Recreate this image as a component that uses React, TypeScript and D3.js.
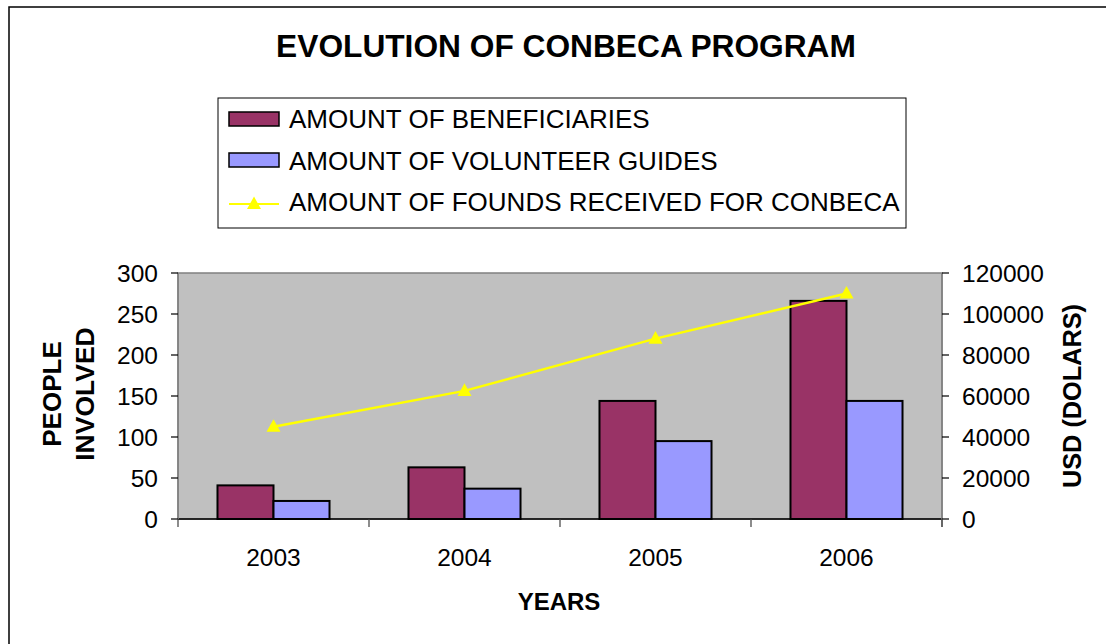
import React from "react";
import * as d3 from "d3";

const years = ["2003", "2004", "2005", "2006"];
const beneficiaries = [41, 63, 144, 266];
const volunteers = [22, 37, 95, 144];
const funds = [45000, 62500, 88000, 110000];
const leftTicks = [0, 50, 100, 150, 200, 250, 300];
const rightTicks = [0, 20000, 40000, 60000, 80000, 100000, 120000];
const seriesNames = ["AMOUNT OF BENEFICIARIES", "AMOUNT OF VOLUNTEER GUIDES", "AMOUNT OF FOUNDS RECEIVED FOR CONBECA"];

const W = 1106, H = 644;
const PL = 178, PR = 942, PT = 273, PB = 519;
const FONT = "'Liberation Sans', Arial, sans-serif";
const C_BEN = "#993366", C_VOL = "#9999FF", C_LINE = "#FFFF00";

function tri(cx: number, cy: number, s: number) {
  const h = s * 0.9;
  return `M${cx},${cy - h * 0.6}L${cx + s / 2},${cy + h * 0.4}L${cx - s / 2},${cy + h * 0.4}Z`;
}

export default function App() {
  const x0 = d3.scaleBand().domain(years).range([PL, PR]).padding(0);
  const x1 = d3.scaleBand().domain(["b", "v"]).range([0, x0.bandwidth()]).paddingInner(0).paddingOuter(0.705);
  const yL = d3.scaleLinear().domain([0, 300]).range([PB, PT]);
  const yR = d3.scaleLinear().domain([0, 120000]).range([PB, PT]);
  const cx = (y: string) => (x0(y) as number) + x0.bandwidth() / 2;
  const line = d3.line<number>().x((_, i) => cx(years[i])).y((d) => yR(d));

  return (
    <svg width={W} height={H} style={{ position: "absolute", left: 0, top: 0, background: "#fff" }} fontFamily={FONT}>
      <rect x={9} y={7} width={1200} height={800} fill="#fff" stroke="#000" strokeWidth={1.5} />
      <text x={566} y={57} textAnchor="middle" fontSize={31.7} fontWeight="bold" fill="#000">EVOLUTION OF CONBECA PROGRAM</text>

      {/* legend */}
      <rect x={218} y={98} width={688} height={130} fill="#fff" stroke="#000" strokeWidth={1} />
      <rect x={229} y={112} width={50} height={14} fill={C_BEN} stroke="#000" strokeWidth={1.5} />
      <rect x={229} y={153} width={50} height={14} fill={C_VOL} stroke="#000" strokeWidth={1.5} />
      <line x1={229} x2={279} y1={204} y2={204} stroke={C_LINE} strokeWidth={2} />
      <path d={tri(254, 204, 14)} fill={C_LINE} />
      {seriesNames.map((s, i) => (
        <text key={s} x={289} y={128 + i * 41.5} fontSize={26} fill="#000">{s}</text>
      ))}

      {/* plot area */}
      <rect x={PL} y={PT} width={PR - PL} height={PB - PT} fill="#C0C0C0" stroke="#808080" strokeWidth={1.5} />

      {years.map((y, i) => (
        <g key={y}>
          <rect x={(x0(y) as number) + (x1("b") as number)} y={yL(beneficiaries[i])} width={x1.bandwidth()} height={PB - yL(beneficiaries[i])} fill={C_BEN} stroke="#000" strokeWidth={2} />
          <rect x={(x0(y) as number) + (x1("v") as number)} y={yL(volunteers[i])} width={x1.bandwidth()} height={PB - yL(volunteers[i])} fill={C_VOL} stroke="#000" strokeWidth={2} />
        </g>
      ))}

      <path d={line(funds) as string} fill="none" stroke={C_LINE} strokeWidth={2.5} />
      {funds.map((f, i) => (
        <path key={i} d={tri(cx(years[i]), yR(f), 14)} fill={C_LINE} />
      ))}

      {/* axes */}
      <line x1={PL} x2={PR} y1={PB} y2={PB} stroke="#000" strokeWidth={1.5} />
      <line x1={PL} x2={PL} y1={PT} y2={PB} stroke="#808080" strokeWidth={1.5} />
      <line x1={PR} x2={PR} y1={PT} y2={PB + 8} stroke="#808080" strokeWidth={1.5} />
      {leftTicks.map((t) => (
        <g key={t}>
          <line x1={PL - 7} x2={PL} y1={yL(t)} y2={yL(t)} stroke="#000" strokeWidth={1.2} />
          <text x={158} y={yL(t) + 8.5} textAnchor="end" fontSize={24.5} fill="#000">{t}</text>
        </g>
      ))}
      {rightTicks.map((t) => (
        <g key={t}>
          <line x1={PR} x2={PR + 7} y1={yR(t)} y2={yR(t)} stroke="#000" strokeWidth={1.2} />
          <text x={962} y={yR(t) + 8.5} textAnchor="start" fontSize={24.5} fill="#000">{t}</text>
        </g>
      ))}
      {[...years.map((y) => x0(y) as number), PR].map((xv, i) => (
        <line key={i} x1={xv} x2={xv} y1={PB} y2={PB + 8} stroke="#404040" strokeWidth={1.2} />
      ))}
      {years.map((y) => (
        <text key={y} x={cx(y)} y={566} textAnchor="middle" fontSize={24.5} fill="#000">{y}</text>
      ))}

      <text x={559} y={610} textAnchor="middle" fontSize={24} fontWeight="bold" fill="#000">YEARS</text>
      <text transform={`translate(61,394) rotate(-90)`} textAnchor="middle" fontSize={26} fontWeight="bold" fill="#000">PEOPLE</text>
      <text transform={`translate(94,394) rotate(-90)`} textAnchor="middle" fontSize={26.5} fontWeight="bold" fill="#000">INVOLVED</text>
      <text transform={`translate(1081,396) rotate(-90)`} textAnchor="middle" fontSize={25.3} fontWeight="bold" fill="#000">USD (DOLARS)</text>
    </svg>
  );
}
